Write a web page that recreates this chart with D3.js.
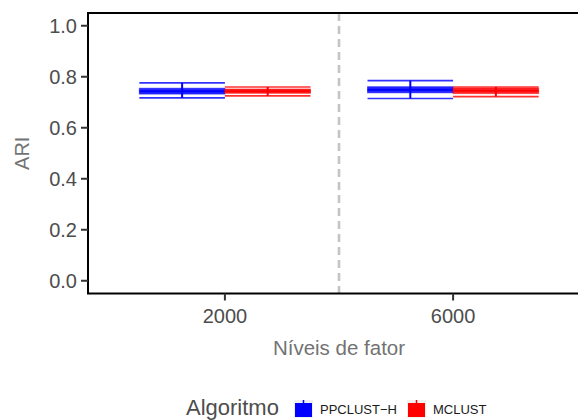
<!DOCTYPE html>
<html><head><meta charset="utf-8">
<script src="https://cdn.jsdelivr.net/npm/d3@7"></script>
<style>body{margin:0;background:#fff}svg{display:block;font-family:"Liberation Sans",Arial,sans-serif}</style>
</head><body><svg id="c" width="578" height="420"></svg>
<script>
const categories = ["2000", "6000"];
const algorithms = ["PPCLUST\u2212H", "MCLUST"];
const colors = ["#0000FF", "#FF0000"];
const yTicks = [0, 0.2, 0.4, 0.6, 0.8, 1.0];
// boxplot stats: [min, q1, median, q3, max] per category, per algorithm
const statsPPCLUST = [[0.717, 0.732, 0.743, 0.755, 0.776], [0.715, 0.737, 0.749, 0.761, 0.785]];
const statsMCLUST  = [[0.725, 0.735, 0.743, 0.752, 0.760], [0.722, 0.734, 0.745, 0.756, 0.760]];

const svg = d3.select("#c");
const L = 88, T = 13, B = 293.5;
// discrete axis: positions 1..2 with 0.6 expansion -> panel wider than the window
const x = d3.scaleLinear().domain([0.4, 2.6]).range([L, 590]);
const y = d3.scaleLinear().domain([-0.05, 1.05]).range([B, T]);
const dodge = 0.75;

const series = [statsPPCLUST, statsMCLUST];
// dashed separator
svg.append("line").attr("x1", x(1.5)).attr("x2", x(1.5)).attr("y1", T).attr("y2", B)
  .attr("stroke", "#c4c4c4").attr("stroke-width", 2.6).attr("stroke-dasharray", "8,5");

series.forEach((st, a) => {
  st.forEach((d, i) => {
    const c = i + 1;
    const x0 = x(c - dodge / 2 + a * dodge / 2), x1 = x(c - dodge / 2 + (a + 1) * dodge / 2);
    const xm = (x0 + x1) / 2;
    const g = svg.append("g");
    // whisker caps (errorbar)
    [d[0], d[4]].forEach(v => g.append("line").attr("x1", x0).attr("x2", x1)
      .attr("y1", y(v)).attr("y2", y(v)).attr("stroke", colors[a]).attr("stroke-width", 1.6).attr("opacity", 0.8));
    g.append("line").attr("x1", xm).attr("x2", xm).attr("y1", y(d[4])).attr("y2", y(d[0]))
      .attr("stroke", colors[a]).attr("stroke-width", 2);
    g.append("rect").attr("x", x0).attr("width", x1 - x0).attr("y", y(d[3])).attr("height", y(d[1]) - y(d[3]))
      .attr("fill", colors[a]).attr("fill-opacity", 0.85).attr("stroke", colors[a]).attr("stroke-opacity", 0.5).attr("stroke-width", 1);
    g.append("line").attr("x1", x0).attr("x2", x1).attr("y1", y(d[2])).attr("y2", y(d[2]))
      .attr("stroke", colors[a]).attr("stroke-width", 2);
  });
});

// panel border
svg.append("rect").attr("x", L).attr("y", T).attr("width", 590 - L).attr("height", B - T)
  .attr("fill", "none").attr("stroke", "#000").attr("stroke-width", 2);

// y axis ticks
yTicks.forEach(t => {
  svg.append("line").attr("x1", L - 7).attr("x2", L).attr("y1", y(t)).attr("y2", y(t)).attr("stroke", "#333").attr("stroke-width", 2);
  svg.append("text").attr("x", L - 11).attr("y", y(t)).attr("dy", "0.36em").attr("text-anchor", "end")
    .attr("font-size", 20).attr("fill", "#4d4d4d").text(t.toFixed(1));
});
categories.forEach((cat, i) => {
  svg.append("line").attr("x1", x(i + 1)).attr("x2", x(i + 1)).attr("y1", B).attr("y2", B + 7).attr("stroke", "#333").attr("stroke-width", 2);
  svg.append("text").attr("x", x(i + 1)).attr("y", 323).attr("text-anchor", "middle")
    .attr("font-size", 20).attr("fill", "#4d4d4d").text(cat);
});
svg.append("text").attr("x", (L + 590) / 2).attr("y", 355).attr("text-anchor", "middle")
  .attr("font-size", 20.5).attr("fill", "#737373").text("Níveis de fator");
svg.append("text").attr("transform", `translate(29,${(T + B) / 2}) rotate(-90)`).attr("text-anchor", "middle")
  .attr("font-size", 20).attr("fill", "#737373").text("ARI");

// legend
svg.append("text").attr("x", 186).attr("y", 415).attr("font-size", 22).attr("fill", "#4d4d4d").text("Algoritmo");
const keyX = [294, 407], labX = [320, 433];
algorithms.forEach((nm, a) => {
  svg.append("rect").attr("x", keyX[a]).attr("y", 400).attr("width", 19).attr("height", 18).attr("fill", "#f0f0f0");
  svg.append("rect").attr("x", keyX[a] + 1).attr("y", 403).attr("width", 17).attr("height", 14).attr("fill", colors[a]);
  svg.append("line").attr("x1", keyX[a] + 9.5).attr("x2", keyX[a] + 9.5).attr("y1", 400).attr("y2", 404).attr("stroke", colors[a]).attr("stroke-width", 1.5);
  svg.append("text").attr("x", labX[a]).attr("y", 414).attr("font-size", 13).attr("fill", "#1a1a1a").text(nm);
});
</script></body></html>
